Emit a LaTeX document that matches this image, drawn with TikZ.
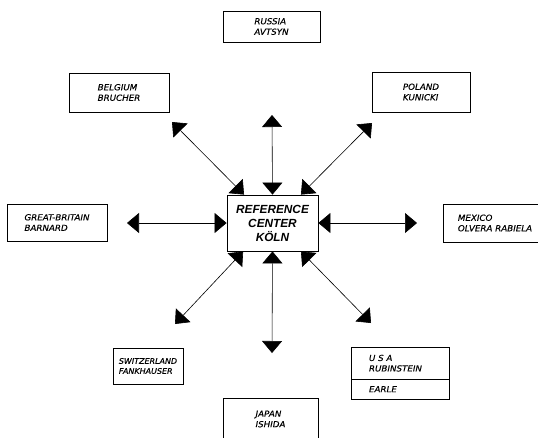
\documentclass[tikz,border=0pt]{standalone}
\usepackage{fontspec}
\setmainfont{Liberation Sans}
\newfontfamily\etiq[FakeStretch=1.05,FakeBold=0.3]{DejaVu Sans}
\usetikzlibrary{arrows.meta,calc,shapes.multipart}

\begin{document}
\begin{tikzpicture}[x=1pt,y=-1pt,
  pays/.style={draw,line width=0.6pt,align=left,inner xsep=2pt,font=\etiq\fontsize{8.3}{10.5}\selectfont\itshape},
  fleche/.style={{Triangle[width=20pt,length=12pt]}-{Triangle[width=20pt,length=12pt]},line width=0.6pt}]
\useasboundingbox (0,0) rectangle (538,437);

% centre
\node[draw,line width=0.8pt,minimum width=91pt,minimum height=56pt,align=center,
  font=\fontsize{11.8}{14}\selectfont\bfseries\itshape] (koln) at (272.5,223) {REFERENCE\\CENTER\\KÖLN};

% pays
\node[pays,minimum width=97pt,minimum height=31pt] (russia) at (271.5,26.5) {RUSSIA\\AVTSYN};
\node[pays,minimum width=100pt,minimum height=39pt] (belgium) at (119,92.5) {BELGIUM\\BRUCHER};
\node[pays,minimum width=98pt,minimum height=40pt] (poland) at (421,92) {POLAND\\KUNICKI};
\node[pays,minimum width=100pt,minimum height=37pt] (britain) at (57,222.5) {GREAT-BRITAIN\\BARNARD};
\node[pays,minimum width=104pt,minimum height=38pt] (mexico) at (495,223) {MEXICO\\OLVERA RABIELA};
\node[pays,minimum width=70pt,minimum height=36pt,font=\etiq\fontsize{7.6}{10}\selectfont\itshape]
  (switzerland) at (148,366) {SWITZERLAND\\FANKHAUSER};
\node[pays,minimum width=95pt,minimum height=42pt] (japan) at (270.5,419) {JAPAN\\ISHIDA};
\node[pays,rectangle split,rectangle split parts=2,text width=62pt,inner xsep=18pt,inner ysep=7pt]
  (usa) at (400,373.5) {U S A\\RUBINSTEIN\nodepart{two}EARLE};

% bouts des fleches
\coordinate (ru) at (272,115);
\coordinate (be) at (172,122);
\coordinate (po) at (372,123);
\coordinate (gb) at (127,223);
\coordinate (mx) at (417,223);
\coordinate (sw) at (175,324);
\coordinate (us) at (371,323);
\coordinate (jp) at (272,353);

\foreach \a/\b in {koln.north/ru,koln.west/gb,koln.east/mx,koln.south/jp} {
  \draw[fleche] (\a) -- (\b);
}
\draw[fleche] ($(koln.north west)!0.19!(koln.north east)$) -- (be);
\draw[fleche] ($(koln.north west)!0.81!(koln.north east)$) -- (po);
\draw[fleche] ($(koln.south west)!0.18!(koln.south east)$) -- (sw);
\draw[fleche] ($(koln.south west)!0.81!(koln.south east)$) -- (us);

\end{tikzpicture}
\end{document}
